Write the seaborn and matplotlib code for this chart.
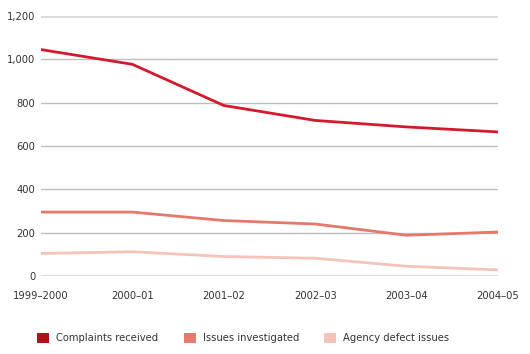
import seaborn as sns
import pandas as pd
import matplotlib.pyplot as plt
from matplotlib.patches import Patch

years = ["1999–2000", "2000–01", "2001–02", "2002–03", "2003–04", "2004–05"]
complaints = [1045, 977, 787, 718, 688, 665]
investigated = [295, 295, 256, 240, 188, 203]
agency_defect = [104, 112, 90, 82, 45, 28]

series_names = ["Complaints received", "Issues investigated", "Agency defect issues"]
line_colors = ["#d3192e", "#e4796b", "#f5c3b9"]
swatch_colors = ["#b20f17", "#e47b6e", "#f5c3b9"]

df = pd.DataFrame({"year": years * 3,
                   "value": complaints + investigated + agency_defect,
                   "series": [s for s in series_names for _ in years]})
df["pos"] = df["year"].map({y: i for i, y in enumerate(years)})

sns.set_style("white")
plt.rcParams["font.family"] = ["DejaVu Sans"]

fig = plt.figure(figsize=(5.3, 3.54), dpi=100)
ax = fig.add_axes([41 / 530, 1 - 276 / 354, 457 / 530, 260 / 354])

# gridlines
for v in range(200, 1200, 200):
    ax.axhline(v, color="#bdbdbd", lw=1.0, zorder=0)
ax.axhline(0, color="#dcdcdc", lw=2.2, zorder=0)
ax.axhline(1200, color="#dcdcdc", lw=2.2, zorder=0)

sns.lineplot(data=df, x="pos", y="value", hue="series", hue_order=series_names[::-1],
             palette=dict(zip(series_names, line_colors)), lw=2.0, legend=False, ax=ax)

ax.set_xlim(0, 5)
ax.set_ylim(0, 1200)
ax.set_xticks(range(len(years)))
ax.set_xticklabels(years)
ax.set_yticks(range(0, 1201, 200))
ax.set_yticklabels(["0", "200", "400", "600", "800", "1,000", "1,200"])
ax.tick_params(axis="both", length=0, labelsize=7.2, colors="#333333")
ax.tick_params(axis="y", pad=4)
ax.tick_params(axis="x", pad=11)
ax.set_xlabel("")
ax.set_ylabel("")
for s in ax.spines.values():
    s.set_visible(False)

handles = [Patch(facecolor=c, edgecolor="none") for c in swatch_colors]
fig.legend(handles, series_names, loc="center", bbox_to_anchor=(0.459, 1 - 338 / 354),
           ncol=3, frameon=False, fontsize=7.2, handlelength=1.2, handleheight=1.2,
           columnspacing=2.5, handletextpad=0.7, labelcolor="#333333")

fig.savefig("out.png", dpi=100)
